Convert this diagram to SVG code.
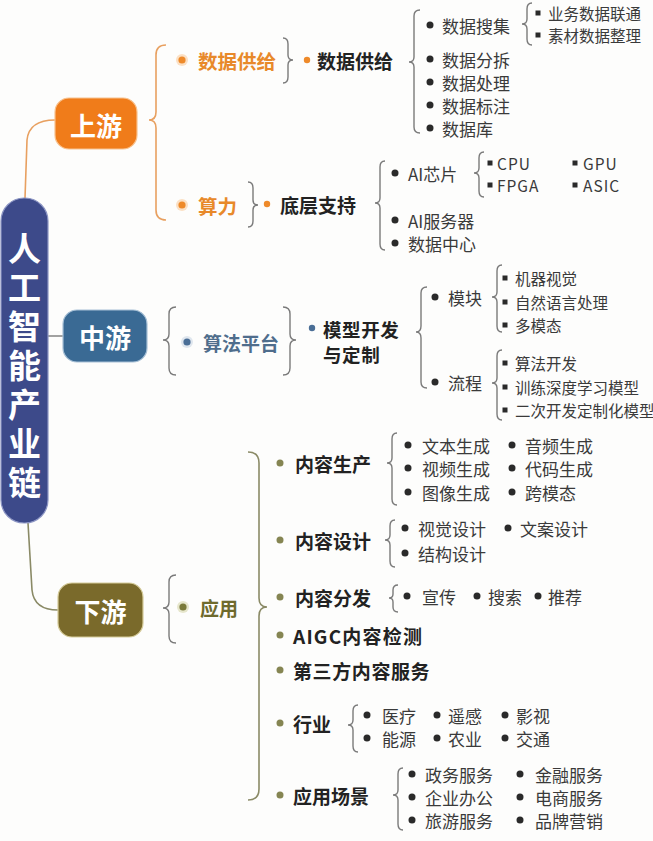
<svg xmlns="http://www.w3.org/2000/svg" width="653" height="841" viewBox="0 0 653 841">
<style>
text{font-family:"Noto Sans CJK SC","Noto Sans",sans-serif;dominant-baseline:central}
.nodet{fill:#fff;font-weight:bold}
.h{fill:#222;font-weight:bold;font-size:19px}
.s{fill:#3a3a3a;font-size:17px}
.t{fill:#3a3a3a;font-size:15.5px}
.br{fill:none;stroke:#7a7a7a;stroke-width:1.4}
.bo{fill:none;stroke:#e8a060;stroke-width:1.6}
.bg{fill:none;stroke:#8a8a66;stroke-width:1.6}
.d{fill:#2a2a2a}
.do{fill:#ee8a2a}
.dg{fill:#858552}
</style>
<rect width="653" height="841" fill="#fdfdfc"/>
<g id="connectors">
<path class="bo" d="M25,198 L27,140 Q29,120 55,120"/>
<path class="br" d="M48,336 L63,336"/>
<path class="bg" d="M28,523 L32,590 Q34,610 58,610"/>
<path class="bo" d="M166,45 Q156,45 156,55 L156,112 Q156,120 149,120 Q156,120 156,128 L156,210 Q156,220 166,220"/>
<path class="br" d="M283,38 Q288,38 288,44 L288,55 Q288,60 293,60 Q288,60 288,65 L288,77 Q288,83 283,83"/>
<path class="br" d="M248,182 Q253,182 253,188 L253,200 Q253,205 258,205 Q253,205 253,210 L253,221 Q253,227 248,227"/>
<path class="br" d="M420,10 Q414,10 414,16 L414,57 Q414,62 409,62 Q414,62 414,67 L414,127 Q414,133 420,133"/>
<path class="br" d="M532,3 Q527,3 527,9 L527,19 Q527,24 522,24 Q527,24 527,29 L527,39 Q527,45 532,45"/>
<path class="br" d="M385,161 Q380,161 380,167 L380,198 Q380,203 375,203 Q380,203 380,208 L380,244 Q380,250 385,250"/>
<path class="br" d="M484,152 Q479,152 479,158 L479,168 Q479,173 474,173 Q479,173 479,178 L479,191 Q479,197 484,197"/>
<path class="br" d="M176,307 Q169,307 169,314 L169,334 Q169,340 163,340 Q169,340 169,346 L169,368 Q169,375 176,375"/>
<path class="br" d="M283,307 Q290,307 290,314 L290,334 Q290,340 296,340 Q290,340 290,346 L290,368 Q290,375 283,375"/>
<path class="br" d="M427,287 Q421,287 421,293 L421,326 Q421,332 416,332 Q421,332 421,338 L421,382 Q421,388 427,388"/>
<path class="br" d="M502,265 Q497,265 497,271 L497,292 Q497,297 492,297 Q497,297 497,302 L497,326 Q497,332 502,332"/>
<path class="br" d="M502,350 Q497,350 497,356 L497,378 Q497,383 492,383 Q497,383 497,388 L497,414 Q497,420 502,420"/>
<path class="br" d="M176,575 Q169,575 169,582 L169,602 Q169,608 163,608 Q169,608 169,614 L169,636 Q169,643 176,643"/>
<path class="bg" d="M248,452 Q259,452 259,463 L259,598 Q259,607 267,607 Q259,607 259,616 L259,789 Q259,800 248,800"/>
<path class="br" d="M397,433 Q392,433 392,439 L392,458 Q392,463 387,463 Q392,463 392,468 L392,499 Q392,505 397,505"/>
<path class="br" d="M395,520 Q390,520 390,526 L390,535 Q390,540 385,540 Q390,540 390,545 L390,561 Q390,567 395,567"/>
<path class="br" d="M398,585 Q393,585 393,590 L393,594 Q393,598 389,598 Q393,598 393,602 L393,607 Q393,612 398,612"/>
<path class="br" d="M358,705 Q353,705 353,711 L353,720 Q353,725 348,725 Q353,725 353,730 L353,746 Q353,752 358,752"/>
<path class="br" d="M403,768 Q398,768 398,774 L398,790 Q398,795 393,795 Q398,795 398,800 L398,824 Q398,830 403,830"/>
</g>
<g id="root">
<rect x="1" y="198" width="47" height="325" rx="23" fill="#3d4a8a" stroke="#8d96c4" stroke-width="1.2"/>
<text class="nodet" font-size="33" x="24.5" y="232" writing-mode="vertical-rl" letter-spacing="6">人工智能产业链</text>
</g>
<g id="upstream">
<rect x="55" y="98" width="82" height="51" rx="14" fill="#f07c1a" stroke="#f8c28e" stroke-width="1.2"/>
<text class="nodet" font-size="26" text-anchor="middle" x="96" y="124">上游</text>
</g>
<g id="midstream">
<rect x="63" y="310" width="84" height="52" rx="14" fill="#3a6a94" stroke="#a7c0d6" stroke-width="1.2"/>
<text class="nodet" font-size="26" text-anchor="middle" x="105" y="336">中游</text>
</g>
<g id="downstream">
<rect x="58" y="583" width="85" height="54" rx="14" fill="#7a6a2b" stroke="#d6cc9a" stroke-width="1.2"/>
<text class="nodet" font-size="26" text-anchor="middle" x="100.5" y="610">下游</text>
</g>
<g id="data-supply">
<circle cx="182" cy="60" r="6" fill="#fbe0c4"/><circle cx="182" cy="60" r="3.6" fill="#ee8a2a"/>
<text x="198" y="60" font-size="19.5" font-weight="bold" fill="#e8892a">数据供给</text>
<circle class="do" cx="307" cy="60" r="3.2"/>
<text class="h" x="317" y="60">数据供给</text>
<circle class="d" cx="430" cy="25" r="3.5"/><text class="s" x="442" y="25">数据搜集</text>
<rect class="d" x="535.5" y="10.5" width="5" height="5"/><text class="t" x="548" y="13">业务数据联通</text>
<rect class="d" x="535.5" y="32.5" width="5" height="5"/><text class="t" x="548" y="35">素材数据整理</text>
<circle class="d" cx="430" cy="59" r="3.5"/><text class="s" x="442" y="59">数据分拆</text>
<circle class="d" cx="430" cy="82" r="3.5"/><text class="s" x="442" y="82">数据处理</text>
<circle class="d" cx="430" cy="105" r="3.5"/><text class="s" x="442" y="105">数据标注</text>
<circle class="d" cx="430" cy="128" r="3.5"/><text class="s" x="442" y="128">数据库</text>
</g>
<g id="computing">
<circle cx="182" cy="205" r="6" fill="#fbe0c4"/><circle cx="182" cy="205" r="3.6" fill="#ee8a2a"/>
<text x="198" y="205" font-size="19.5" font-weight="bold" fill="#e8892a">算力</text>
<circle class="do" cx="267" cy="204" r="3.2"/>
<text class="h" x="280" y="204">底层支持</text>
<circle class="d" cx="395" cy="173" r="3.5"/><text class="s" x="408" y="173">AI芯片</text>
<rect class="d" x="487.5" y="160.5" width="5" height="5"/><text class="t" x="497" y="163" letter-spacing="1">CPU</text>
<rect class="d" x="572.5" y="160.5" width="5" height="5"/><text class="t" x="583" y="163" letter-spacing="1">GPU</text>
<rect class="d" x="487.5" y="182.5" width="5" height="5"/><text class="t" x="497" y="185" letter-spacing="1">FPGA</text>
<rect class="d" x="572.5" y="182.5" width="5" height="5"/><text class="t" x="583" y="185" letter-spacing="1">ASIC</text>
<circle class="d" cx="395" cy="220" r="3.5"/><text class="s" x="408" y="220">AI服务器</text>
<circle class="d" cx="395" cy="243" r="3.5"/><text class="s" x="408" y="243">数据中心</text>
</g>
<g id="algorithm-platform">
<circle cx="187" cy="342" r="6" fill="#dfe6ee"/><circle cx="187" cy="342" r="3.6" fill="#4a6e96"/>
<text x="203" y="342" font-size="19" font-weight="bold" fill="#4f6d8c">算法平台</text>
<circle cx="312" cy="328" r="3.2" fill="#4a6e96"/>
<text class="h" x="323" y="329" font-size="18.5" style="font-size:18.5px" letter-spacing="0.6">模型开发<tspan x="323" dy="25">与定制</tspan></text>
<circle class="d" cx="435" cy="297" r="3.5"/><text class="s" x="448" y="297">模块</text>
<rect class="d" x="502.5" y="275.5" width="5" height="5"/><text class="t" x="515" y="278">机器视觉</text>
<rect class="d" x="502.5" y="299.5" width="5" height="5"/><text class="t" x="515" y="302">自然语言处理</text>
<rect class="d" x="502.5" y="322.5" width="5" height="5"/><text class="t" x="515" y="325">多模态</text>
<circle class="d" cx="435" cy="382" r="3.5"/><text class="s" x="448" y="382">流程</text>
<rect class="d" x="502.5" y="360.5" width="5" height="5"/><text class="t" x="515" y="363">算法开发</text>
<rect class="d" x="502.5" y="384.5" width="5" height="5"/><text class="t" x="515" y="387">训练深度学习模型</text>
<rect class="d" x="502.5" y="407.5" width="5" height="5"/><text class="t" x="515" y="410">二次开发定制化模型</text>
</g>
<g id="application">
<circle cx="183" cy="607" r="6" fill="#e6e6cc"/><circle cx="183" cy="607" r="3.6" fill="#7a7a3a"/>
<text x="200" y="607" font-size="19" font-weight="bold" fill="#6e6a2c">应用</text>
</g>
<g id="content-production">
<circle class="dg" cx="280" cy="463" r="3.5"/><text class="h" x="295" y="463">内容生产</text>
<circle class="d" cx="408" cy="445" r="3.5"/><text class="s" x="422" y="445">文本生成</text>
<circle class="d" cx="512" cy="445" r="3.5"/><text class="s" x="525" y="445">音频生成</text>
<circle class="d" cx="408" cy="468" r="3.5"/><text class="s" x="422" y="468">视频生成</text>
<circle class="d" cx="512" cy="468" r="3.5"/><text class="s" x="525" y="468">代码生成</text>
<circle class="d" cx="408" cy="492" r="3.5"/><text class="s" x="422" y="492">图像生成</text>
<circle class="d" cx="512" cy="492" r="3.5"/><text class="s" x="525" y="492">跨模态</text>
</g>
<g id="content-design">
<circle class="dg" cx="280" cy="540" r="3.5"/><text class="h" x="295" y="540">内容设计</text>
<circle class="d" cx="405" cy="528" r="3.5"/><text class="s" x="418" y="528">视觉设计</text>
<circle class="d" cx="508" cy="528" r="3.5"/><text class="s" x="520" y="528">文案设计</text>
<circle class="d" cx="405" cy="553" r="3.5"/><text class="s" x="418" y="553">结构设计</text>
</g>
<g id="content-distribution">
<circle class="dg" cx="280" cy="597" r="3.5"/><text class="h" x="295" y="597">内容分发</text>
<circle class="d" cx="407" cy="596" r="3.5"/><text class="s" x="422" y="596">宣传</text>
<circle class="d" cx="477" cy="596" r="3.5"/><text class="s" x="488" y="596">搜索</text>
<circle class="d" cx="538" cy="596" r="3.5"/><text class="s" x="548" y="596">推荐</text>
</g>
<g id="aigc-detection">
<circle class="dg" cx="280" cy="635" r="3.5"/><text class="h" x="293" y="635" letter-spacing="1.2">AIGC内容检测</text>
</g>
<g id="third-party">
<circle class="dg" cx="280" cy="670" r="3.5"/><text class="h" x="293" y="670" letter-spacing="0.6">第三方内容服务</text>
</g>
<g id="industry">
<circle class="dg" cx="280" cy="723" r="3.5"/><text class="h" x="293" y="723">行业</text>
<circle class="d" cx="367" cy="715" r="3.5"/><text class="s" x="382" y="715">医疗</text>
<circle class="d" cx="437" cy="715" r="3.5"/><text class="s" x="448" y="715">遥感</text>
<circle class="d" cx="505" cy="715" r="3.5"/><text class="s" x="516" y="715">影视</text>
<circle class="d" cx="367" cy="738" r="3.5"/><text class="s" x="382" y="738">能源</text>
<circle class="d" cx="437" cy="738" r="3.5"/><text class="s" x="448" y="738">农业</text>
<circle class="d" cx="505" cy="738" r="3.5"/><text class="s" x="516" y="738">交通</text>
</g>
<g id="scenarios">
<circle class="dg" cx="280" cy="795" r="3.5"/><text class="h" x="293" y="795">应用场景</text>
<circle class="d" cx="412" cy="774" r="3.5"/><text class="s" x="425" y="774">政务服务</text>
<circle class="d" cx="520" cy="774" r="3.5"/><text class="s" x="535" y="774">金融服务</text>
<circle class="d" cx="412" cy="797" r="3.5"/><text class="s" x="425" y="797">企业办公</text>
<circle class="d" cx="520" cy="797" r="3.5"/><text class="s" x="535" y="797">电商服务</text>
<circle class="d" cx="412" cy="820" r="3.5"/><text class="s" x="425" y="820">旅游服务</text>
<circle class="d" cx="520" cy="820" r="3.5"/><text class="s" x="535" y="820">品牌营销</text>
</g>
</svg>
